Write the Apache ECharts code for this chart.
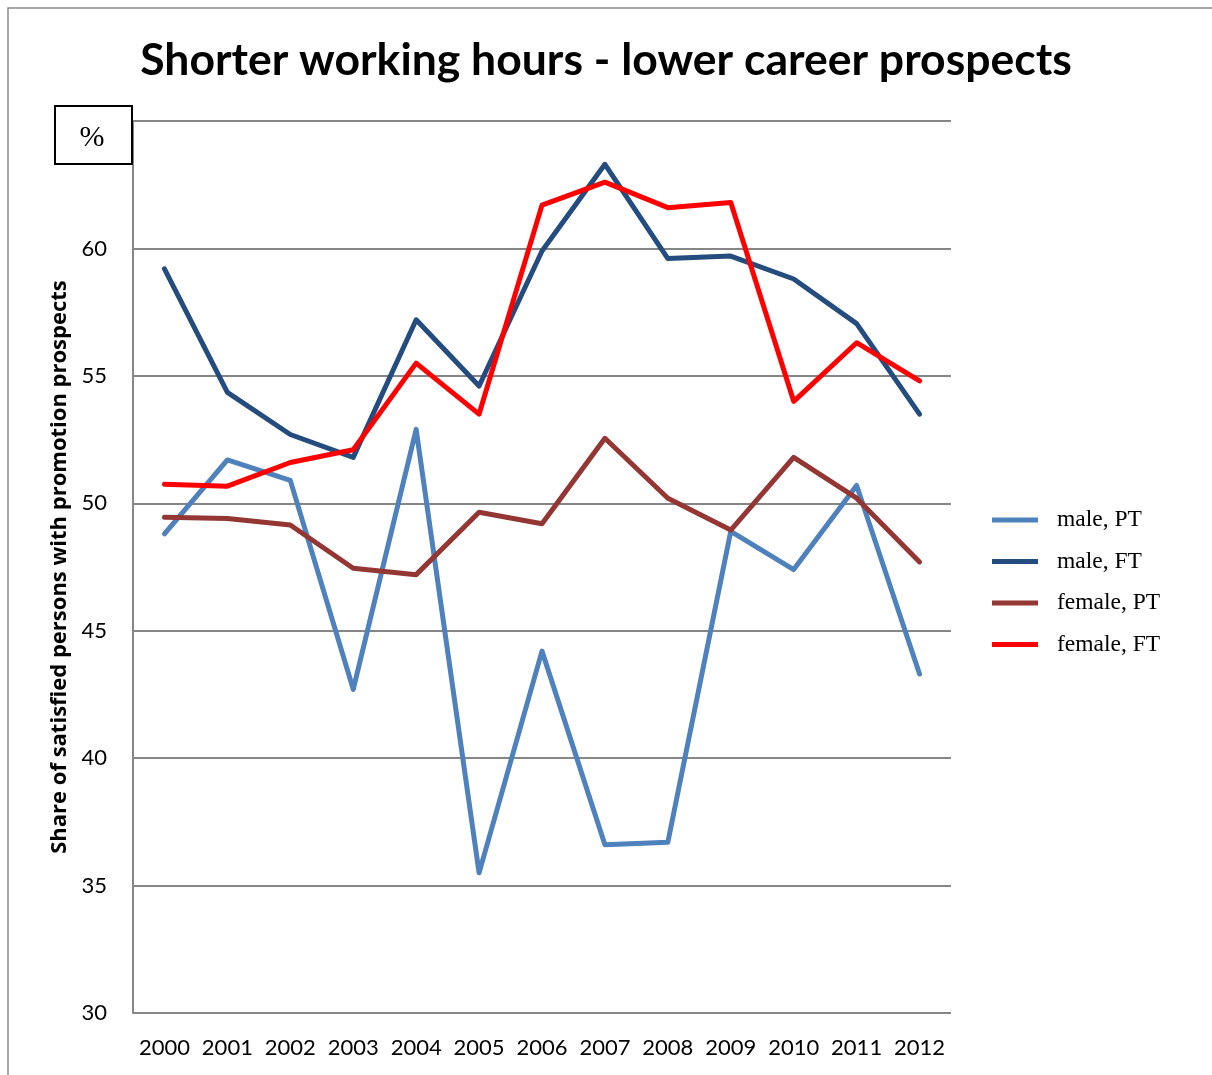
<!DOCTYPE html>
<html><head><meta charset="utf-8">
<script src="https://cdn.jsdelivr.net/npm/echarts@6/dist/echarts.min.js"></script>
<style>html,body{margin:0;padding:0;background:#fff}#c{width:1212px;height:1075px}</style>
</head><body><div id="c"></div>
<script>
const years = ['2000','2001','2002','2003','2004','2005','2006','2007','2008','2009','2010','2011','2012'];
const malePT   = [48.8, 51.7, 50.9, 42.7, 52.9, 35.5, 44.2, 36.6, 36.7, 48.9, 47.4, 50.7, 43.3];
const maleFT   = [59.2, 54.35, 52.7, 51.8, 57.2, 54.6, 59.9, 63.3, 59.6, 59.7, 58.8, 57.05, 53.5];
const femalePT = [49.45, 49.4, 49.15, 47.45, 47.2, 49.65, 49.2, 52.55, 50.2, 48.95, 51.8, 50.2, 47.7];
const femaleFT = [50.75, 50.67, 51.6, 52.1, 55.5, 53.5, 61.7, 62.6, 61.6, 61.8, 54.0, 56.3, 54.8];
const seriesNames = ['male, PT','male, FT','female, PT','female, FT'];
const colors = ['#4F81BD','#244C7E','#943634','#FF0000'];
const yTicks = [30,35,40,45,50,55,60];

const chart = echarts.init(document.getElementById('c'));
const dataSets = [malePT, maleFT, femalePT, femaleFT];
chart.setOption({
  animation:false,
  title:{text:'Shorter working hours - lower career prospects',left:'center',top:33,
    textStyle:{fontFamily:'Lato',fontWeight:'bold',fontSize:44.5,color:'#000'}},
  grid:{left:133,right:261,top:121,bottom:62},
  legend:{orient:'vertical',left:987,top:503,itemGap:17.5,itemWidth:46,itemHeight:5,
    icon:'rect',
    textStyle:{fontFamily:'Liberation Serif',fontSize:23.5,color:'#000',padding:[0,0,0,14]},
    data:seriesNames},
  xAxis:{type:'category',data:years,boundaryGap:true,
    axisLine:{show:false},axisTick:{show:false},
    axisLabel:{interval:0,fontFamily:'Lato',fontSize:22,color:'#000',margin:24}},
  yAxis:{type:'value',min:30,max:65,interval:5,
    name:'Share of satisfied persons with promotion prospects',nameLocation:'middle',nameGap:62,
    nameTextStyle:{fontFamily:'Open Sans',fontWeight:'bold',fontSize:22,color:'#000'},
    axisLine:{show:true,lineStyle:{color:'#868686',width:2}},axisTick:{show:false},
    axisLabel:{fontFamily:'Lato',fontSize:22,color:'#000',margin:26,
      formatter:v=>yTicks.indexOf(v)>=0?String(v):''},
    splitLine:{lineStyle:{color:'#868686',width:2}}},
  graphic:[
    {type:'rect',shape:{x:8,y:8,width:1400,height:1400},style:{fill:'none',stroke:'#8a8a8a',lineWidth:1.5},z:-1},
    {type:'rect',shape:{x:55,y:106,width:77,height:58},style:{fill:'#fff',stroke:'#000',lineWidth:2},z:10},
    {type:'text',x:92,y:138,style:{text:'%',font:'30px "Liberation Serif"',fill:'#000',textAlign:'center',textVerticalAlign:'middle'},z:11}
  ],
  series: dataSets.map((d,i)=>({name:seriesNames[i],type:'line',data:d,symbol:'none',
    lineStyle:{color:colors[i],width:5,cap:'round',join:'round'},itemStyle:{color:colors[i]}}))
});
</script></body></html>
